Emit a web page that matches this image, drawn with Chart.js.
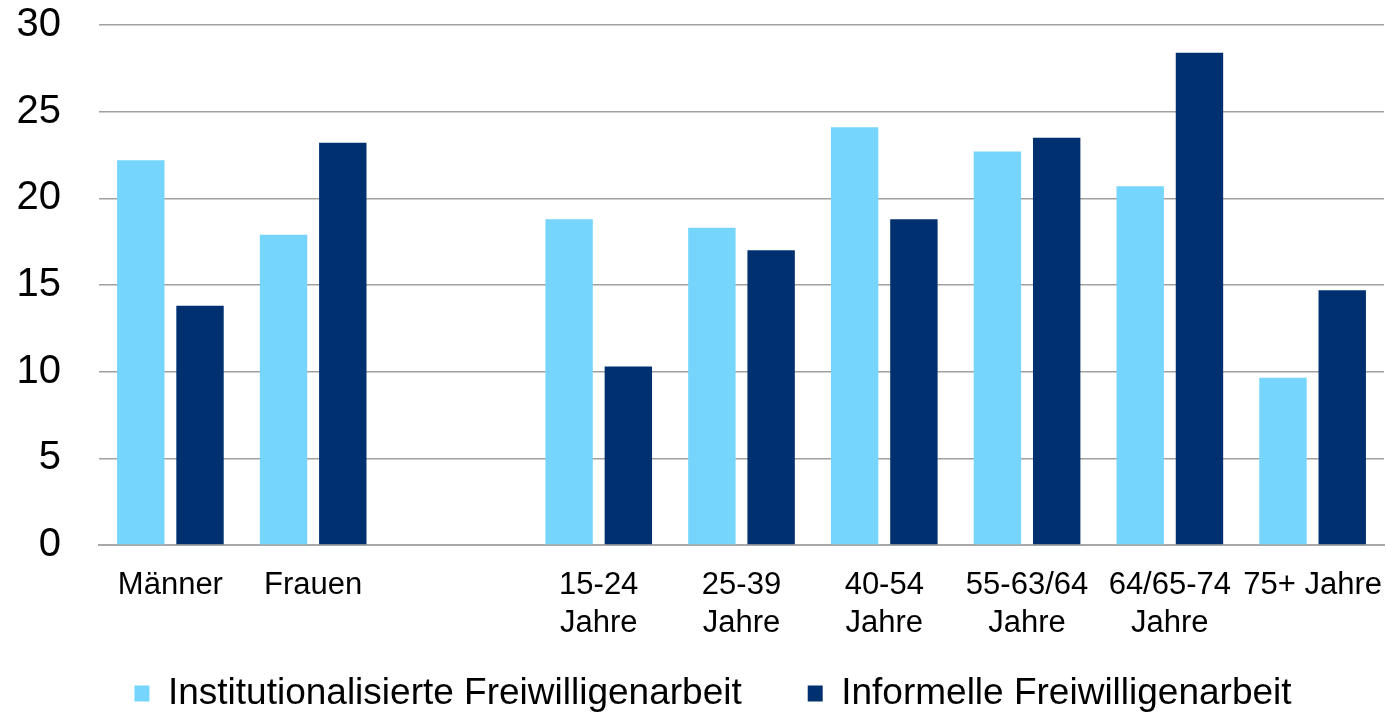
<!DOCTYPE html>
<html>
<head>
<meta charset="utf-8">
<script src="https://cdn.jsdelivr.net/npm/chart.js"></script>
<style>
  html, body { margin: 0; padding: 0; background: #fff; }
  #wrap { width: 1386px; height: 714px; }
</style>
</head>
<body>
<div id="wrap"><canvas id="myChart" width="1386" height="714"></canvas></div>
<script>
// categories (one empty slot between sex and age groups)
const categories = [
  'Männer', 'Frauen', '',
  ['15-24', 'Jahre'], ['25-39', 'Jahre'], ['40-54', 'Jahre'],
  ['55-63/64', 'Jahre'], ['64/65-74', 'Jahre'], '75+ Jahre'
];
const institutionell = [22.2, 17.9, null, 18.8, 18.3, 24.1, 22.7, 20.7, 9.65];
const informell = [13.8, 23.2, null, 10.3, 17.0, 18.8, 23.5, 28.4, 14.7];
const seriesNames = ['Institutionalisierte Freiwilligenarbeit', 'Informelle Freiwilligenarbeit'];
const yTicks = [0, 5, 10, 15, 20, 25, 30];

const fontFamily = '"Liberation Sans", Arial, sans-serif';

const ctx = document.getElementById('myChart').getContext('2d');
const myChart = new Chart(ctx, {
  type: 'bar',
  data: {
    labels: categories,
    datasets: [{
      label: seriesNames[0],
      data: institutionell,
      backgroundColor: '#75d5fd'
    }, {
      label: seriesNames[1],
      data: informell,
      backgroundColor: '#003070'
    }]
  },
  options: {
    responsive: false,
    animation: false,
    categoryPercentage: 0.83,
    barPercentage: 0.8,
    layout: { padding: { left: 42, right: 2, top: 25, bottom: -8 } },
    plugins: {
      legend: {
        position: 'bottom',
        labels: {
          color: '#000',
          font: { family: fontFamily, size: 37 },
          boxWidth: 15,
          boxHeight: 16,
          padding: 66
        }
      },
      tooltip: { enabled: false }
    },
    scales: {
      x: {
        grid: { display: false },
        border: { color: '#a8a8a8', width: 2 },
        afterFit: (s) => {
          s.height = 64;
          s.paddingLeft = 0;
          s.paddingRight = 0;
          // let the second label line run below the axis box
          s._computeLabelArea = () => undefined;
        },
        ticks: {
          color: '#000',
          maxRotation: 0,
          autoSkip: false,
          padding: 13,
          font: { family: fontFamily, size: 31, lineHeight: 1.23 }
        }
      },
      y: {
        min: 0,
        max: 30,
        afterBuildTicks: (axis) => { axis.ticks = yTicks.map(v => ({ value: v })); },
        afterFit: (s) => {
          s.width = 57;
          s.paddingTop = 0;
          s.paddingBottom = 0;
          s._computeLabelArea = () => undefined;
        },
        grid: { color: '#a0a0a0', lineWidth: 1.5, drawTicks: false },
        border: { display: false },
        ticks: {
          color: '#000',
          padding: 38,
          font: { family: fontFamily, size: 40 }
        }
      }
    }
  }
});
</script>
</body>
</html>
